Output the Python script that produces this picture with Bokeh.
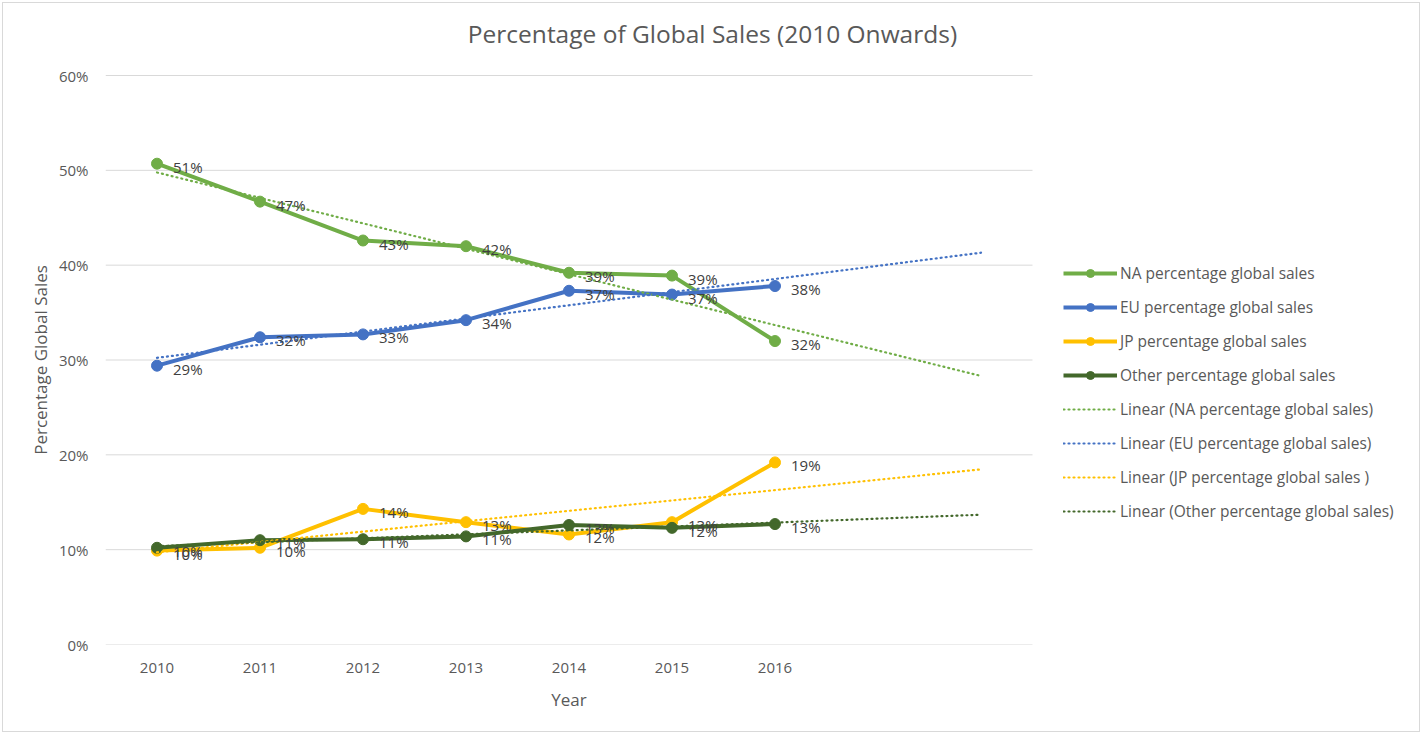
import numpy as np
from bokeh.plotting import figure
from bokeh.models import (Range1d, FixedTicker, PrintfTickFormatter, Legend,
                          LegendItem, ColumnDataSource, LinearAxis, Label)
from bokeh.core.properties import value
from bokeh.embed import file_html
from bokeh.resources import INLINE

# ---------------- data ----------------
years = ["2010", "2011", "2012", "2013", "2014", "2015", "2016"]
na_share = [50.7, 46.7, 42.6, 42.0, 39.2, 38.9, 32.0]
eu_share = [29.4, 32.4, 32.7, 34.2, 37.3, 36.9, 37.8]
jp_share = [9.9, 10.2, 14.3, 12.9, 11.6, 12.9, 19.2]
other_share = [10.2, 11.0, 11.1, 11.4, 12.6, 12.3, 12.7]
series_names = ["NA percentage global sales", "EU percentage global sales",
                "JP percentage global sales", "Other percentage global sales"]
trend_names = ["Linear (NA percentage global sales)",
               "Linear (EU percentage global sales)",
               "Linear (JP percentage global sales )",
               "Linear (Other percentage global sales)"]
y_ticks = [0, 10, 20, 30, 40, 50, 60]
forecast_forward = 2  # trendline forecast periods
title_text = "Percentage of Global Sales (2010 Onwards)"
x_title = "Year"
y_title = "Percentage Global Sales"

# ---------------- style / layout ----------------
FONT = "Open Sans"
TXT = "#595959"
colors = ["#70AD47", "#4472C4", "#FFC000", "#43682B"]

W, H = 1418, 730
LEFT, BOTTOM = 102, 89          # space for axes
PLOT_W, PLOT_H = 927, 569       # pixel size of the chart's plot area
FRAME_W, FRAME_H = W - LEFT, H - BOTTOM

n = len(years)
xs = list(range(n))
x0 = -0.5
x1 = n - 1 + forecast_forward + 0.5
x_end = x0 + (x1 - x0) * FRAME_W / PLOT_W
y_top = y_ticks[-1]
y_end = y_top * FRAME_H / PLOT_H

p = figure(width=W, height=H, output_backend="svg", toolbar_location=None,
           x_range=Range1d(x0, x_end), y_range=Range1d(0, y_end),
           min_border_left=LEFT, min_border_right=0,
           min_border_top=0, min_border_bottom=BOTTOM)
p.styles = {"border": "1px solid #D9D9D9", "margin": "2px"}
p.outline_line_color = None
p.background_fill_color = "white"
p.border_fill_color = "white"
p.xgrid.grid_line_color = None
p.ygrid.grid_line_color = None


def style_axis(ax, size="15px"):
    ax.axis_line_color = None
    ax.major_tick_line_color = None
    ax.minor_tick_line_color = None
    ax.major_label_text_font = FONT
    ax.major_label_text_font_size = size
    ax.major_label_text_color = TXT


# main axes
p.xaxis.ticker = FixedTicker(ticks=xs)
p.xaxis.major_label_overrides = {i: y for i, y in enumerate(years)}
p.xaxis.major_label_standoff = 12
p.yaxis.ticker = FixedTicker(ticks=y_ticks)
p.yaxis.formatter = PrintfTickFormatter(format="%d%%")
p.yaxis.major_label_standoff = 11
style_axis(p.xaxis[0])
style_axis(p.yaxis[0])

# axis titles, centred on the plot area
x_mid = (x0 + x1) / 2
y_mid = y_top / 2
xt_axis = LinearAxis(ticker=FixedTicker(ticks=[x_mid]),
                     major_label_overrides={x_mid: x_title},
                     major_label_standoff=6)
style_axis(xt_axis, "17px")
p.add_layout(xt_axis, "below")
yt_axis = LinearAxis(ticker=FixedTicker(ticks=[y_mid]),
                     major_label_overrides={y_mid: y_title},
                     major_label_orientation="vertical",
                     major_label_standoff=-2)
style_axis(yt_axis, "17px")
p.add_layout(yt_axis, "left")

# horizontal gridlines across the plot area only
p.segment(x0=[x0] * len(y_ticks), x1=[x1] * len(y_ticks), y0=y_ticks, y1=y_ticks,
          line_color="#D9D9D9", line_width=1)

all_series = [na_share, eu_share, jp_share, other_share]

series_items = []
trend_items = []
for vals, name, col in zip(all_series, series_names, colors):
    src = ColumnDataSource(dict(x=xs, y=vals))
    lr = p.line("x", "y", source=src, line_color=col, line_width=4, line_join="round")
    sr = p.scatter("x", "y", source=src, size=11, fill_color=col, line_color=col)
    series_items.append(LegendItem(label=name, renderers=[lr, sr]))

for vals, name, col in zip(all_series, trend_names, colors):
    slope, icpt = np.polyfit(xs, vals, 1)
    tx = [0, n - 1 + forecast_forward]
    ty = [icpt + slope * t for t in tx]
    tr = p.line(tx, ty, line_color=col, line_width=2.2, line_dash="1 4",
                line_cap="round")
    trend_items.append(LegendItem(label=name, renderers=[tr]))

# data labels
for vals in all_series:
    src = ColumnDataSource(dict(x=xs, y=vals, t=[f"{round(v)}%" for v in vals]))
    p.text("x", "y", text="t", source=src, x_offset=16, y_offset=3,
           text_align="left", text_baseline="middle",
           text_font=value(FONT), text_font_size="15px", text_color="#404040")

legend = Legend(items=series_items + trend_items, location=(958, 122))
legend.margin = 0
legend.padding = 0
legend.spacing = 12
legend.label_height = 20
legend.glyph_height = 20
legend.glyph_width = 54
legend.label_standoff = 3
legend.label_text_font = FONT
legend.label_text_font_size = "15.5px"
legend.label_text_color = TXT
legend.border_line_color = None
legend.background_fill_alpha = 0
p.add_layout(legend, "center")

# chart title, centred on the whole chart
title_x = x0 + (x_end - x0) * (W / 2 - LEFT) / FRAME_W
title = Label(x=title_x, y=64.4, text=title_text, text_align="center",
              text_baseline="middle", text_font=FONT, text_font_size="24.5px",
              text_color=TXT)
p.add_layout(title)

open("out.html", "w").write(file_html(p, INLINE))
